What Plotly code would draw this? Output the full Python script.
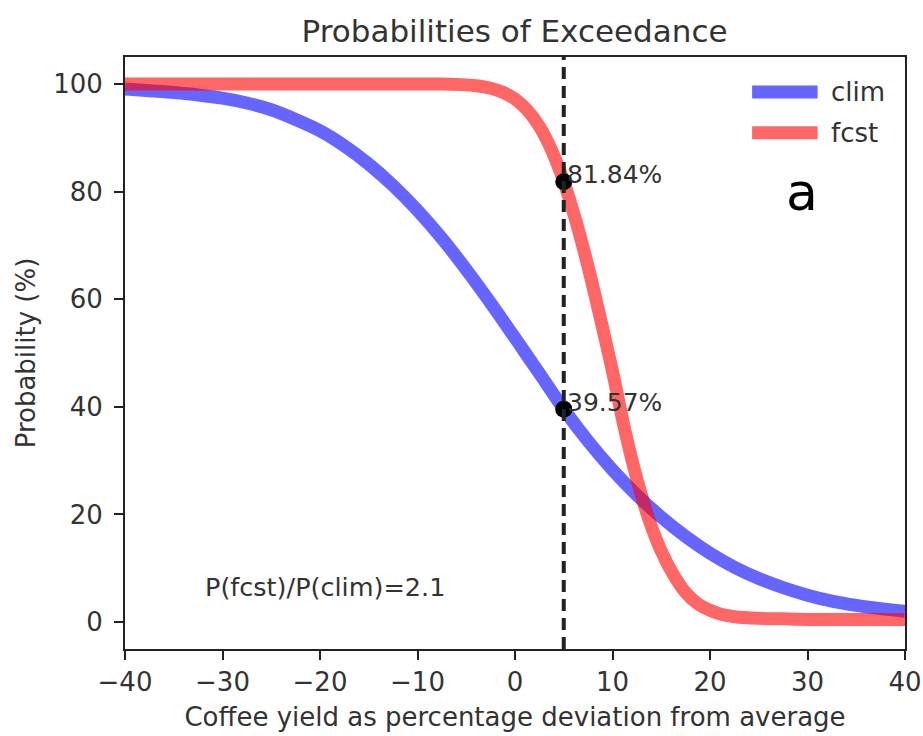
import plotly.graph_objects as go

# Yield deviation (%) at which climatological exceedance is evaluated
clim_x = [-40, -37.5, -35, -32.5, -30, -27.5, -25, -22.5, -20, -17.5, -15, -12.5,
          -10, -7.5, -5, -2.5, 0, 2.5, 5, 7.5, 10, 12.5, 15, 17.5, 20, 22.5,
          25, 27.5, 30, 32.5, 35, 37.5, 40]

# Probability of exceedance (%) – climatology
clim_prob = [99.05, 98.75, 98.4, 97.95, 97.35, 96.45, 95.2, 93.4, 91.3, 88.5, 85.1, 81.1,
             76.5, 71.3, 65.5, 59.3, 52.8, 46.2, 39.57, 33.6, 28.3, 23.6, 19.5, 15.9,
             12.8, 10.2, 8.1, 6.4, 5.0, 3.9, 3.1, 2.5, 2.0]

# Forecast distribution is much narrower, so it is tabulated more densely
fcst_x = [-40, -35, -30, -25, -20, -15, -10, -7.5, -5, -3.75, -2.5, -1.25,
          0, 1.25, 2.5, 3.75, 5, 6.25, 7.5, 8.75, 10, 11.25, 12.5, 13.75,
          15, 16.25, 17.5, 18.75, 20, 21.25, 22.5, 25, 27.5, 30, 35, 40]

# Probability of exceedance (%) – forecast
fcst_prob = [100.0, 100.0, 100.0, 100.0, 100.0, 100.0, 100.0, 99.97, 99.82, 99.6, 99.2, 98.45,
             97.2, 95.15, 92.1, 87.7, 81.84, 74.5, 66.0, 56.5, 46.6, 35.8, 26.6, 19.0,
             13.2, 8.8, 5.5, 3.4, 2.2, 1.4, 1.0, 0.7, 0.6, 0.5, 0.5, 0.5]

# Threshold and the two probabilities read at it
threshold = 5
threshold_probs = [81.84, 39.57]
threshold_labels = ["81.84%", "39.57%"]
ratio_text = "P(fcst)/P(clim)=2.1"

series_names = ["clim", "fcst"]
series_colors = ["rgba(0,0,255,0.6)", "rgba(255,0,0,0.6)"]

FONT = "DejaVu Sans, Verdana, sans-serif"
TXT = "#333333"
FS = 26

fig = go.Figure()

for name, xs, ys, col in zip(series_names, [clim_x, fcst_x], [clim_prob, fcst_prob],
                             series_colors):
    fig.add_trace(go.Scatter(
        x=xs, y=ys, mode="lines", name=name,
        line=dict(color=col, width=13, shape="spline", smoothing=0.8),
        showlegend=False, hoverinfo="x+y",
    ))

fig.add_trace(go.Scatter(
    x=[threshold] * len(threshold_probs), y=threshold_probs, mode="markers",
    marker=dict(color="black", size=17), showlegend=False,
))

# Value labels next to the threshold points
for p, lab in zip(threshold_probs, threshold_labels):
    fig.add_annotation(x=threshold, y=p, text=lab, showarrow=False,
                       xanchor="left", yanchor="middle", xshift=1, yshift=7,
                       font=dict(family=FONT, size=25, color=TXT))

fig.add_annotation(x=-19.5, y=6.5, text=ratio_text, showarrow=False,
                   xanchor="center", yanchor="middle",
                   font=dict(family=FONT, size=25.5, color=TXT))

# Panel letter
fig.add_annotation(xref="paper", yref="paper", x=0.8676, y=0.772, text="a",
                   showarrow=False, xanchor="center", yanchor="middle",
                   font=dict(family=FONT, size=52, color="black"))

shapes = [
    # threshold line
    dict(type="line", xref="x", yref="paper", x0=threshold, x1=threshold, y0=0, y1=1,
         line=dict(color="#222222", width=4, dash="12px,7px"), layer="above"),
]

# Legend entries
legend_y = [0.941, 0.872]
for name, col, ly in zip(series_names, series_colors, legend_y):
    shapes.append(dict(type="line", xref="paper", yref="paper",
                       x0=0.804, x1=0.888, y0=ly, y1=ly,
                       line=dict(color=col, width=13), layer="above"))
    fig.add_annotation(xref="paper", yref="paper", x=0.902, y=ly, text=name,
                       showarrow=False, xanchor="left", yanchor="middle",
                       font=dict(family=FONT, size=FS, color=TXT))

fig.update_layout(
    width=923, height=736,
    margin=dict(l=125, r=18, t=57, b=87),
    paper_bgcolor="white", plot_bgcolor="white",
    shapes=shapes,
    font=dict(family=FONT, size=FS, color=TXT),
    title=dict(text="Probabilities of Exceedance", x=0.5575, xanchor="center",
               y=0.958, yanchor="middle",
               font=dict(family=FONT, size=31, color=TXT)),
)

fig.update_xaxes(
    range=[-40, 40], tickvals=[-40, -30, -20, -10, 0, 10, 20, 30, 40],
    automargin=False,
    showgrid=False, zeroline=False,
    showline=True, linecolor="#222222", linewidth=2, mirror=True,
    ticks="outside", ticklen=9, tickwidth=2, tickcolor="#222222",
    ticklabelstandoff=0,
    tickfont=dict(family=FONT, size=FS, color=TXT),
    title=dict(text="Coffee yield as percentage deviation from average", standoff=12,
               font=dict(family=FONT, size=FS, color=TXT)),
)

fig.update_yaxes(
    range=[-5, 105], tickvals=[0, 20, 40, 60, 80, 100],
    automargin=False,
    showgrid=False, zeroline=False,
    showline=True, linecolor="#222222", linewidth=2, mirror=True,
    ticks="outside", ticklen=9, tickwidth=2, tickcolor="#222222",
    ticklabelstandoff=6,
    tickfont=dict(family=FONT, size=FS, color=TXT),
    title=dict(text="Probability (%)", standoff=10,
               font=dict(family=FONT, size=FS, color=TXT)),
)

fig.write_html("out.html")
